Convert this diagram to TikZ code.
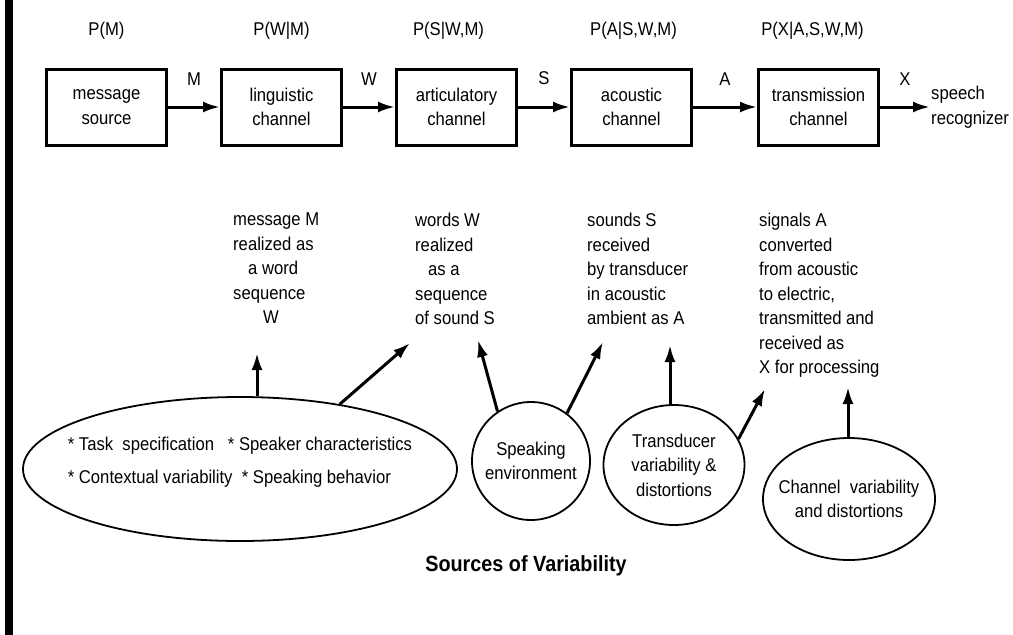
\documentclass[tikz,border=0pt]{standalone}
\usepackage{fontspec}
\setmainfont{Liberation Sans}[FakeStretch=0.9]
\usetikzlibrary{positioning,arrows.meta,shapes.geometric}
\tikzset{
  chan/.style={draw,line width=3pt,minimum width=120pt,minimum height=76pt,align=center,inner sep=2pt},
  src/.style={draw,ellipse,line width=1.8pt,align=center,inner sep=0pt},
  flow/.style={-{Latex[length=17pt,width=11pt]},line width=3pt},
  desc/.style={align=left,anchor=north west,inner sep=0pt}
}
\begin{document}
\begin{tikzpicture}[x=1pt,y=1pt,font=\fontsize{18.5}{24.5}\selectfont]
  \useasboundingbox (0,0) rectangle (1013,-635);
  \fill (5,0) rectangle (13,-635);
  % channel chain
  \node[chan] (ms) at (106.5,-107) {message\\source};
  \node[chan,right=52pt of ms] (lc) {linguistic\\channel};
  \node[chan,right=52pt of lc] (ac) {articulatory\\channel};
  \node[chan,right=52pt of ac] (co) {acoustic\\channel};
  \node[chan,right=64pt of co] (tc) {transmission\\channel};
  \node[align=left,inner sep=1pt,right=50pt of tc] (sr) {speech\\recognizer};
  \node[above=25pt of ms] (pm) {P(M)};
  \node[above=25pt of lc] (pwm) {P(W|M)};
  \node[above=25pt of ac,xshift=-8pt] (pswm) {P(S|W,M)};
  \node[above=25pt of co,xshift=2pt] (paswm) {P(A|S,W,M)};
  \node[above=25pt of tc,xshift=-6pt] (pxaswm) {P(X|A,S,W,M)};
  \draw[flow] (ms) -- node[above=17pt] {M} (lc);
  \draw[flow] (lc) -- node[above=17pt] {W} (ac);
  \draw[flow] (ac) -- node[above=17pt] {S} (co);
  \draw[flow] (co) -- node[above=17pt] {A} (tc);
  \draw[flow] (tc) -- node[above=17pt] {X} (sr);
  % what each channel does
  \node[desc] (dmsg) at (233,-213) {message M\\realized as\\\hspace*{15pt}a word\\sequence\\\hspace*{30pt}W};
  \node[desc] (dwrd) at (415,-213) {words W\\realized\\\hspace*{13pt}as a\\sequence\\of sound S};
  \node[desc] (dsnd) at (587,-213) {sounds S\\received\\by transducer\\in acoustic\\ambient as A};
  \node[desc] (dsig) at (759,-213) {signals A\\converted\\from acoustic\\to electric,\\transmitted and\\received as\\X for processing};
  % sources of variability
  \node[src,minimum width=434pt,minimum height=144pt] (task) at (240,-469) {};
  \node[align=left,yshift=7pt] (tasktxt) at (task) {* Task\ \ specification\ \ \ * Speaker characteristics\\[8pt]* Contextual variability\ \ * Speaking behavior};
  \node[src,circle,minimum size=118pt] (env) at (531,-461) {Speaking\\environment};
  \node[src,minimum width=141pt,minimum height=120pt] (trd) at (674,-465) {Transducer\\variability \&\\distortions};
  \node[src,minimum width=172pt,minimum height=122pt,inner xsep=-30pt] (chv) at (849,-499) {Channel\ \ variability\\and distortions};
  \node[font=\fontsize{22}{24}\selectfont\bfseries] (sov) at (526,-566) {Sources of Variability};
  \coordinate (t1) at (257,-353);
  \coordinate (t2) at (410,-343);
  \coordinate (t3) at (478,-340);
  \coordinate (t4) at (603,-342);
  \coordinate (t5) at (670,-345);
  \coordinate (t6) at (765,-389);
  \coordinate (t7) at (848,-387);
  \draw[flow] (t1 |- task.north) -- (t1);
  \draw[flow] (task.33) -- (t2);
  \draw[flow] (env.124) -- (t3);
  \draw[flow] (env.53) -- (t4);
  \draw[flow] (t5 |- trd.north) -- (t5);
  \draw[flow] (trd.22) -- (t6);
  \draw[flow] (t7 |- chv.north) -- (t7);
\end{tikzpicture}
\end{document}
